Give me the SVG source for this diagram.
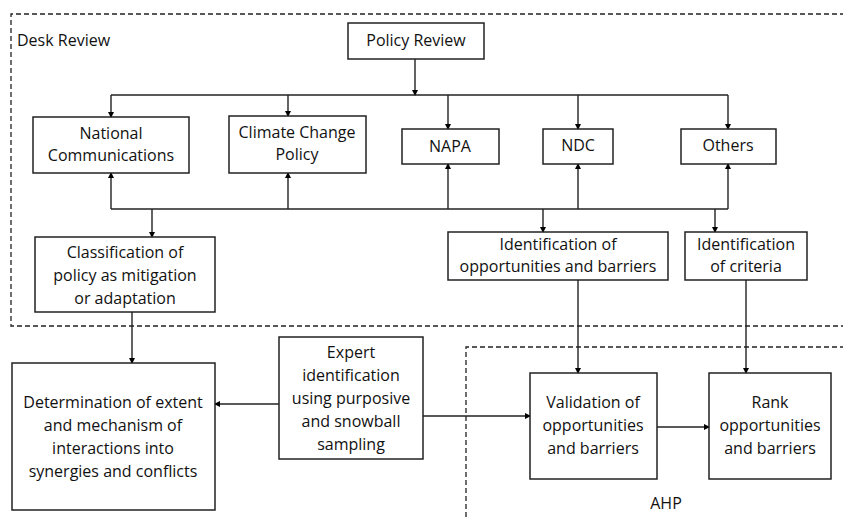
<svg xmlns="http://www.w3.org/2000/svg" width="843" height="518" viewBox="0 0 843 518">
<defs>
<marker id="ah" markerWidth="6" markerHeight="6" refX="5" refY="3" orient="auto" markerUnits="userSpaceOnUse">
<path d="M0,0 L6,3 L0,6 z" fill="#000"/>
</marker>
<style>
.box{fill:#fff;stroke:#222;stroke-width:1.5}
.dash{fill:none;stroke:#222;stroke-width:1.3;stroke-dasharray:5,3}
.ln{fill:none;stroke:#222;stroke-width:1.4}
.ar{fill:none;stroke:#222;stroke-width:1.4;marker-end:url(#ah)}
text{font-family:"Open Sans","Liberation Sans",sans-serif;font-size:16px;fill:#111;text-anchor:middle}
.lbl{text-anchor:start}
</style>
</defs>
<rect width="843" height="518" fill="#fff"/>
<g id="groups">
<path class="dash" d="M845,14 H11 V326 H845"/>
<path class="dash" d="M845,347 H466 V520"/>
<text class="lbl" x="17" y="46">Desk Review</text>
<text x="666" y="509">AHP</text>
</g>
<g id="connectors">
<path class="ar" d="M415,59 V95"/>
<path class="ln" d="M111,95 H728"/>
<path class="ar" d="M111,95 V117"/>
<path class="ar" d="M288,95 V116"/>
<path class="ar" d="M448,95 V129"/>
<path class="ar" d="M578,95 V129"/>
<path class="ar" d="M728,95 V129"/>
<path class="ln" d="M111,209 H728"/>
<path class="ar" d="M111,209 V173"/>
<path class="ar" d="M288,209 V173"/>
<path class="ar" d="M448,209 V164"/>
<path class="ar" d="M578,209 V164"/>
<path class="ar" d="M728,209 V164"/>
<path class="ar" d="M152,209 V237"/>
<path class="ar" d="M543,209 V232"/>
<path class="ar" d="M715,209 V232"/>
<path class="ar" d="M132,312 V363"/>
<path class="ar" d="M279,404 H215"/>
<path class="ar" d="M423,416 H530"/>
<path class="ar" d="M657,427 H709"/>
<path class="ar" d="M578,280 V373"/>
<path class="ar" d="M746,280 V373"/>
</g>
<g id="policy-review"><rect class="box" x="348" y="23" width="136" height="36"/><text x="416" y="46">Policy Review</text></g>
<g id="national-communications"><rect class="box" x="33" y="117" width="156" height="56"/><text x="111" y="139">National</text><text x="111" y="161">Communications</text></g>
<g id="climate-change-policy"><rect class="box" x="229" y="116" width="137" height="57"/><text x="297" y="138">Climate Change</text><text x="297" y="160">Policy</text></g>
<g id="napa"><rect class="box" x="402" y="129" width="97" height="35"/><text x="450" y="152">NAPA</text></g>
<g id="ndc"><rect class="box" x="543" y="129" width="70" height="35"/><text x="578" y="151">NDC</text></g>
<g id="others"><rect class="box" x="681" y="129" width="95" height="35"/><text x="728" y="151">Others</text></g>
<g id="classification"><rect class="box" x="35" y="237" width="180" height="75"/><text x="125" y="258">Classification of</text><text x="125" y="281">policy as mitigation</text><text x="125" y="304">or adaptation</text></g>
<g id="identification-opportunities"><rect class="box" x="448" y="232" width="220" height="48"/><text x="558" y="250">Identification of</text><text x="558" y="272">opportunities and barriers</text></g>
<g id="identification-criteria"><rect class="box" x="685" y="232" width="122" height="48"/><text x="746" y="250">Identification</text><text x="746" y="272">of criteria</text></g>
<g id="determination"><rect class="box" x="12" y="363" width="203" height="147"/><text x="113" y="408">Determination of extent</text><text x="113" y="431">and mechanism of</text><text x="113" y="454">interactions into</text><text x="113" y="477">synergies and conflicts</text></g>
<g id="expert"><rect class="box" x="279" y="337" width="144" height="122"/><text x="351" y="358">Expert</text><text x="351" y="381">identification</text><text x="351" y="404">using purposive</text><text x="351" y="427">and snowball</text><text x="351" y="450">sampling</text></g>
<g id="validation"><rect class="box" x="530" y="373" width="127" height="106"/><text x="593" y="408">Validation of</text><text x="593" y="431">opportunities</text><text x="593" y="454">and barriers</text></g>
<g id="rank"><rect class="box" x="709" y="373" width="122" height="106"/><text x="770" y="408">Rank</text><text x="770" y="431">opportunities</text><text x="770" y="454">and barriers</text></g>
</svg>
